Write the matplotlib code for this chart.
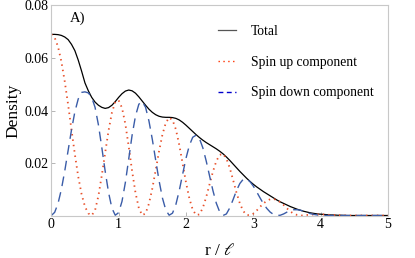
import numpy as np
import matplotlib
matplotlib.use("Agg")
import matplotlib.pyplot as plt
from matplotlib.lines import Line2D

# radial coordinate r / l (grid)
r = [0.00, 0.05, 0.10, 0.15, 0.20, 0.25, 0.30, 0.35, 0.40, 0.45,
     0.50, 0.55, 0.60, 0.65, 0.70, 0.75, 0.80, 0.85, 0.90, 0.95,
     1.00, 1.05, 1.10, 1.15, 1.20, 1.25, 1.30, 1.35, 1.40, 1.45,
     1.50, 1.55, 1.60, 1.65, 1.70, 1.75, 1.80, 1.85, 1.90, 1.95,
     2.00, 2.05, 2.10, 2.15, 2.20, 2.25, 2.30, 2.35, 2.40, 2.45,
     2.50, 2.55, 2.60, 2.65, 2.70, 2.75, 2.80, 2.85, 2.90, 2.95,
     3.00, 3.05, 3.10, 3.15, 3.20, 3.25, 3.30, 3.35, 3.40, 3.45,
     3.50, 3.55, 3.60, 3.65, 3.70, 3.75, 3.80, 3.85, 3.90, 3.95,
     4.00, 4.05, 4.10, 4.15, 4.20, 4.25, 4.30, 4.40, 4.60, 4.80, 5.00]

total = [0.0690, 0.0690, 0.0689, 0.0686, 0.0680, 0.0670, 0.0652, 0.0628, 0.0592, 0.0550,
         0.0505, 0.0475, 0.0450, 0.0432, 0.0420, 0.0412, 0.0408, 0.0411, 0.0420, 0.0434,
         0.0450, 0.0464, 0.0474, 0.0478, 0.0475, 0.0466, 0.0452, 0.0436, 0.0420, 0.0405,
         0.0393, 0.0384, 0.0378, 0.0375, 0.0374, 0.0374, 0.0373, 0.0370, 0.0364, 0.0355,
         0.0344, 0.0332, 0.0320, 0.0308, 0.0297, 0.0287, 0.0278, 0.0270, 0.0262, 0.0254,
         0.0245, 0.0235, 0.0223, 0.0210, 0.0196, 0.0182, 0.0168, 0.0155, 0.0142, 0.0130,
         0.0119, 0.0109, 0.0100, 0.0091, 0.0083, 0.0075, 0.0067, 0.0059, 0.0052, 0.0046,
         0.0040, 0.0034, 0.0029, 0.0024, 0.0020, 0.0016, 0.0013, 0.0010, 0.0008, 0.0006,
         0.0005, 0.0004, 0.0003, 0.0002, 0.0002, 0.0001, 0.0001, 0.0000, 0.0000, 0.0000, 0.0000]

spin_up = [0.0690, 0.0678, 0.0643, 0.0586, 0.0510, 0.0422, 0.0326, 0.0233, 0.0148, 0.0081,
           0.0034, 0.0008, 0.0000, 0.0020, 0.0075, 0.0153, 0.0239, 0.0323, 0.0392, 0.0433,
           0.0439, 0.0410, 0.0348, 0.0262, 0.0169, 0.0087, 0.0028, 0.0001, 0.0008, 0.0045,
           0.0103, 0.0173, 0.0245, 0.0308, 0.0353, 0.0373, 0.0364, 0.0328, 0.0269, 0.0198,
           0.0126, 0.0065, 0.0022, 0.0002, 0.0004, 0.0029, 0.0070, 0.0119, 0.0167, 0.0207,
           0.0231, 0.0235, 0.0217, 0.0181, 0.0135, 0.0087, 0.0046, 0.0017, 0.0002, 0.0001,
           0.0007, 0.0019, 0.0033, 0.0046, 0.0056, 0.0062, 0.0063, 0.0059, 0.0051, 0.0040,
           0.0027, 0.0015, 0.0007, 0.0002, 0.0000, 0.0000, 0.0002, 0.0003, 0.0004, 0.0004,
           0.0004, 0.0004, 0.0003, 0.0002, 0.0002, 0.0001, 0.0001, 0.0000, 0.0000, 0.0000, 0.0000]

spin_down = [0.0000, 0.0012, 0.0046, 0.0100, 0.0170, 0.0248, 0.0326, 0.0395, 0.0444, 0.0469,
             0.0471, 0.0467, 0.0450, 0.0412, 0.0345, 0.0259, 0.0169, 0.0088, 0.0028, 0.0001,
             0.0011, 0.0054, 0.0126, 0.0216, 0.0306, 0.0379, 0.0424, 0.0435, 0.0412, 0.0360,
             0.0290, 0.0211, 0.0133, 0.0067, 0.0021, 0.0001, 0.0009, 0.0042, 0.0095, 0.0157,
             0.0218, 0.0267, 0.0298, 0.0306, 0.0293, 0.0258, 0.0208, 0.0151, 0.0095, 0.0047,
             0.0014, 0.0000, 0.0006, 0.0029, 0.0061, 0.0095, 0.0122, 0.0138, 0.0140, 0.0129,
             0.0112, 0.0090, 0.0067, 0.0045, 0.0027, 0.0013, 0.0004, 0.0000, 0.0001, 0.0006,
             0.0013, 0.0019, 0.0022, 0.0022, 0.0020, 0.0016, 0.0011, 0.0007, 0.0004, 0.0002,
             0.0001, 0.0000, 0.0000, 0.0000, 0.0000, 0.0000, 0.0000, 0.0000, 0.0000, 0.0000, 0.0000]

x_ticks = [0, 1, 2, 3, 4, 5]
y_ticks = [0.02, 0.04, 0.06, 0.08]
y_ticklabels = ["0.02", "0.04", "0.06", "0.08"]
labels = ["Total", "Spin up component", "Spin down component"]

plt.rcParams["font.family"] = ["Liberation Serif", "DejaVu Serif"]
plt.rcParams["mathtext.fontset"] = "stix"

fig = plt.figure(figsize=(4.15, 2.58), dpi=100)
ax = fig.add_axes([0.1236, 0.1647, 0.8114, 0.8140])

ax.plot(r, total, color="black", lw=0.9)
ax.plot(r, spin_up, color="#e8502a", lw=1.3, linestyle=(0, (0.8, 2.2)))
ax.plot(r, spin_down, color="#3a5ca8", lw=1.0, linestyle=(0, (7, 4.5)))

ax.set_xlim(0, 5)
ax.set_ylim(0, 0.08)
ax.set_xticks(x_ticks)
ax.set_xticklabels([str(t) for t in x_ticks])
ax.set_yticks(y_ticks)
ax.set_yticklabels(y_ticklabels)
ax.tick_params(direction="in", length=3, width=0.6, color="#aaaaaa", labelsize=10, pad=2)
for s in ax.spines.values():
    s.set_color("#c8c8c8")
    s.set_linewidth(0.8)

ax.set_xlabel(r"r / $\ell$", fontsize=12.5)
ax.set_ylabel("Density", fontsize=12.5)
ax.yaxis.set_label_coords(-0.088, 0.5)
ax.xaxis.set_label_coords(0.5, -0.13)
ax.text(0.27, 0.0752, "A)", fontsize=10.5, va="center")

# legend keys as in the original (short gray line, red dots, blue dashes)
keys = [Line2D([], [], color="#555555", lw=0.9),
        Line2D([], [], color="#ff3300", lw=1.0, linestyle=(0, (1, 2.5))),
        Line2D([], [], color="#0000cc", lw=1.0, linestyle=(0, (3.5, 2.5)))]
ax.legend(keys, labels, loc="upper left", bbox_to_anchor=(0.475, 0.94),
          frameon=False, fontsize=9.8, handlelength=1.3, handletextpad=1.1,
          labelspacing=1.3, borderpad=0)

fig.savefig("out.png", dpi=100)
